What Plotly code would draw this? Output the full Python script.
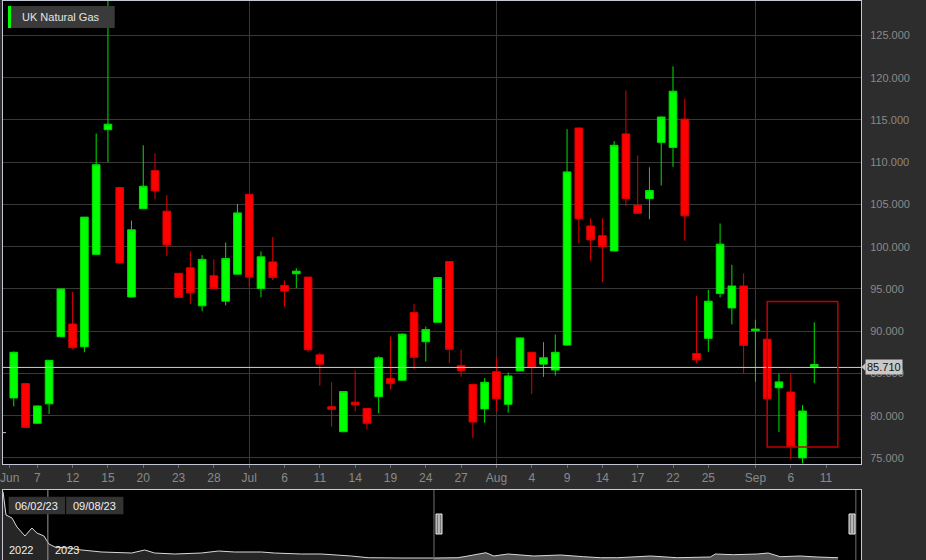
import pandas as pd
import plotly.graph_objects as go

# ---------------- data ----------------
TITLE = "UK Natural Gas"
holidays = ["2023-08-28"]
calendar = [d.strftime("%Y-%m-%d") for d in pd.bdate_range("2023-06-02", "2023-09-12")
            if d.strftime("%Y-%m-%d") not in holidays]

candle_dates = calendar[calendar.index("2023-06-05"):calendar.index("2023-09-08") + 1]

opens = [82.1, 83.8, 79.1, 81.4, 89.35, 90.85, 88.15, 99.1, 113.85, 107.0,
         94.05, 104.5, 109.0, 104.2, 96.85, 97.5, 93.0, 96.55, 93.55, 96.75,
         106.2, 95.05, 98.2, 95.4, 96.8, 96.4, 87.2, 81.05, 78.1, 81.6,
         80.85, 82.25, 84.4, 84.2, 92.2, 88.75, 91.05, 98.25, 85.95, 83.7,
         80.8, 85.2, 81.35, 85.3, 87.5, 86.1, 85.4, 88.35, 114.05, 102.45,
         101.3, 99.5, 113.35, 104.9, 105.7, 112.35, 111.75, 115.1, 87.35, 89.15,
         94.45, 92.75, 95.35, 90.05, 89.05, 83.3, 82.8, 75.0, 85.8]
highs = [87.6, 83.9, 81.2, 86.6, 95.0, 94.65, 103.5, 113.4, 130.0, 107.1,
         103.1, 112.0, 111.05, 106.1, 96.9, 99.45, 99.0, 98.5, 100.5, 105.05,
         106.25, 99.45, 101.15, 96.0, 97.45, 96.45, 87.45, 83.95, 82.85, 85.35,
         80.9, 87.05, 89.35, 89.75, 93.2, 90.55, 96.35, 98.3, 87.8, 83.75,
         84.45, 86.85, 85.1, 89.25, 87.55, 88.7, 89.6, 113.9, 114.1, 103.35,
         103.35, 112.5, 118.5, 110.8, 109.4, 115.4, 121.35, 117.55, 94.15, 94.9,
         102.75, 97.85, 96.85, 91.35, 89.1, 85.0, 85.0, 81.25, 91.05]
lows = [81.1, 78.5, 79.0, 80.2, 89.3, 87.9, 87.5, 99.0, 110.0, 98.0,
        94.0, 104.5, 105.6, 98.9, 93.95, 93.2, 92.35, 95.0, 93.05, 96.7,
        95.25, 94.0, 96.05, 92.9, 95.1, 87.55, 83.55, 78.7, 78.05, 80.5,
        78.4, 80.3, 83.1, 84.15, 85.5, 86.4, 91.0, 86.25, 84.6, 77.35,
        79.15, 80.45, 80.35, 85.25, 82.55, 84.6, 84.75, 88.3, 100.4, 98.35,
        95.8, 99.45, 104.8, 103.9, 103.25, 107.25, 109.45, 100.7, 86.25, 87.55,
        94.0, 90.8, 85.0, 84.0, 82.0, 78.05, 74.85, 74.35, 83.85]
closes = [87.5, 78.6, 81.15, 86.55, 95.0, 88.05, 103.5, 109.7, 114.5, 98.1,
          102.0, 107.15, 106.6, 100.2, 94.0, 94.55, 98.5, 95.05, 98.6, 104.0,
          96.4, 98.8, 96.35, 94.75, 97.1, 87.8, 86.1, 80.75, 82.85, 81.3,
          79.1, 86.85, 83.8, 89.65, 86.9, 90.2, 96.35, 87.85, 85.35, 79.25,
          83.95, 82.0, 84.7, 89.2, 85.7, 86.85, 87.5, 108.85, 103.3, 100.8,
          100.0, 112.0, 105.7, 103.95, 106.65, 115.35, 118.4, 103.65, 86.6, 93.55,
          100.3, 95.35, 88.3, 90.25, 82.0, 84.0, 76.35, 80.55, 86.05]

# unchanged (doji) candle partly visible at the left edge
flat_dates = ["2023-06-02"]
flat_open = [78.0]
flat_high = [78.3]
flat_low = [77.7]
flat_close = [78.0]

last_price = 85.71
last_price_text = "85.710"

tick_dates = ["2023-06-07", "2023-06-12", "2023-06-15", "2023-06-20", "2023-06-23",
              "2023-06-28", "2023-07-03", "2023-07-06", "2023-07-11", "2023-07-14",
              "2023-07-19", "2023-07-24", "2023-07-27", "2023-08-01", "2023-08-04",
              "2023-08-09", "2023-08-14", "2023-08-17", "2023-08-22", "2023-08-25",
              "2023-09-01", "2023-09-06", "2023-09-11"]
tick_text = ["7", "12", "15", "20", "23", "28", "Jul", "6", "11", "14", "19", "24",
             "27", "Aug", "4", "9", "14", "17", "22", "25", "Sep", "6", "11"]
first_label_date = "2023-06-02"
first_label_text = "Jun"
month_starts = ["2023-07-03", "2023-08-01", "2023-09-01"]
y_ticks = [75, 80, 85, 90, 95, 100, 105, 110, 115, 120, 125]

highlight_dates = ["2023-09-04", "2023-09-12"]
highlight_prices = [76.3, 93.5]

# navigator (overview) series: position along navigator (%) and price
nav_pos = [0.0, 0.35, 1.05, 1.63, 2.56, 3.37, 3.95, 4.77, 5.35, 6.05, 7.67, 9.19,
           11.51, 15.0, 16.51, 17.67, 20.0, 23.14, 25.12, 26.98, 30.12, 31.63,
           34.77, 37.09, 40.58, 42.56, 46.4, 50.23, 53.02, 54.19, 56.28, 57.21,
           58.84, 61.86, 65.0, 67.67, 69.65, 71.63, 75.47, 78.6, 82.44, 83.02,
           85.12, 87.91, 89.19, 90.58, 92.91, 94.88, 97.33]
nav_val = [544, 381, 360, 297, 234, 290, 255, 234, 178, 157, 150, 136,
           122, 115, 136, 115, 108, 115, 129, 122, 122, 115,
           108, 108, 94, 82, 80, 80, 82, 94, 117, 94,
           108, 94, 101, 89, 82, 82, 94, 82, 87, 108,
           103, 108, 115, 89, 94, 87, 82]
nav_year_pos = 5.23
nav_sel = [50.23, 99.4]
nav_sel_text = ["06/02/23", "09/08/23"]
nav_years = ["2022", "2023"]

# ---------------- figure ----------------
pos = {d: i for i, d in enumerate(calendar)}
cx = [pos[d] for d in candle_dates]

W, H = 926, 560
ML, MR, MT, MB = 1, 65, 1, 0
PW, PH = W - ML - MR, H - MT - MB


def px(x):
    return (x - ML) / PW


def py(y):
    return (H - MB - y) / PH


FONT = "Liberation Sans, Arial, sans-serif"
GREEN = "#00ff00"
RED = "#ff0000"
BORDER = "#c3c7d6"
GRID = "#383838"
LABEL = "#8a8a8a"

fig = go.Figure()

fig.add_trace(go.Candlestick(
    x=cx, open=opens, high=highs, low=lows, close=closes,
    increasing=dict(fillcolor=GREEN, line=dict(color="#00e000", width=1)),
    decreasing=dict(fillcolor=RED, line=dict(color="#e00000", width=1)),
    whiskerwidth=0, showlegend=False, hoverinfo="skip",
    xaxis="x", yaxis="y"))

fig.add_trace(go.Candlestick(
    x=[pos[d] for d in flat_dates], open=flat_open, high=flat_high, low=flat_low,
    close=flat_close,
    increasing=dict(fillcolor="#aaaaaa", line=dict(color="#aaaaaa", width=1)),
    decreasing=dict(fillcolor="#aaaaaa", line=dict(color="#aaaaaa", width=1)),
    whiskerwidth=0, showlegend=False, hoverinfo="skip",
    xaxis="x", yaxis="y"))

# navigator
split = next(i for i, p in enumerate(nav_pos) if p >= nav_sel[0])
fig.add_trace(go.Scatter(
    x=nav_pos[:split + 1], y=nav_val[:split + 1], mode="lines",
    line=dict(color="#d8d8d8", width=1), fill="tozeroy",
    fillcolor="rgba(70,70,70,0.55)", showlegend=False, hoverinfo="skip",
    xaxis="x2", yaxis="y2"))
fig.add_trace(go.Scatter(
    x=nav_pos[split:], y=nav_val[split:], mode="lines",
    line=dict(color="#d8d8d8", width=1), fill="tozeroy",
    fillcolor="rgba(110,110,110,0.75)", showlegend=False, hoverinfo="skip",
    xaxis="x2", yaxis="y2"))

main_bottom = py(464)
nav_top = py(490)

x_range = [0.085, 72.97]
tickvals = [pos[first_label_date] + 0.65] + [pos[d] for d in tick_dates]
ticktext = [first_label_text] + tick_text

shapes = []
# last price line
shapes.append(dict(type="line", xref="x domain", yref="y", x0=0, x1=1,
                   y0=last_price, y1=last_price, line=dict(color="#cfcfcf", width=1)))
# highlight rectangle
shapes.append(dict(type="rect", xref="x", yref="y",
                   x0=pos[highlight_dates[0]], x1=pos[highlight_dates[1]],
                   y0=highlight_prices[0], y1=highlight_prices[1],
                   line=dict(color="#c00000", width=1.5)))
# title box
shapes.append(dict(type="rect", xref="paper", yref="paper", x0=px(6), x1=px(113),
                   y0=py(28), y1=py(6), fillcolor="#3a3a3a", line=dict(width=0)))
shapes.append(dict(type="rect", xref="paper", yref="paper", x0=px(6), x1=px(9),
                   y0=py(28), y1=py(6), fillcolor=GREEN, line=dict(width=0)))
# price tag pointer
shapes.append(dict(type="path", xref="paper", yref="paper",
                   path=f"M {px(861.5)} {py(367)} L {px(865.5)} {py(363)} L {px(865.5)} {py(371)} Z",
                   fillcolor="#c8c8c8", line=dict(width=0)))
# navigator lines
shapes.append(dict(type="line", xref="x2", yref="y2 domain", x0=nav_year_pos, x1=nav_year_pos,
                   y0=0, y1=1, line=dict(color="#9a9a9a", width=1)))
for s in nav_sel:
    shapes.append(dict(type="line", xref="x2", yref="y2 domain", x0=s, x1=s,
                       y0=0, y1=1, line=dict(color="#707070", width=1)))
# navigator selection date boxes
for a, b in [(6.7, 63.3), (64.3, 121.7)]:
    shapes.append(dict(type="rect", xref="paper", yref="paper", x0=px(a), x1=px(b),
                       y0=py(514.3), y1=py(496.7), fillcolor="#333333", line=dict(width=0)))
# navigator handles
for hx in [438, 852]:
    shapes.append(dict(type="rect", xref="paper", yref="paper", x0=px(hx - 3), x1=px(hx + 3),
                       y0=py(534), y1=py(514), fillcolor="#7a7a7a",
                       line=dict(color="#f0f0f0", width=1)))
    shapes.append(dict(type="line", xref="paper", yref="paper", x0=px(hx), x1=px(hx),
                       y0=py(533), y1=py(515), line=dict(color="#f0f0f0", width=1)))

annotations = []
annotations.append(dict(xref="paper", yref="paper", x=px(18), y=py(17), xanchor="left",
                        yanchor="middle", text=TITLE, showarrow=False,
                        font=dict(family=FONT, size=11, color="#e4e4e4")))
annotations.append(dict(xref="paper", yref="y", x=1, y=last_price, xanchor="left",
                        yanchor="middle", xshift=4, text=last_price_text, showarrow=False,
                        bgcolor="#c8c8c8", borderpad=1,
                        font=dict(family=FONT, size=11, color="#111111")))
for (a, b), t in zip([(6.7, 63.3), (64.3, 121.7)], nav_sel_text):
    annotations.append(dict(xref="paper", yref="paper", x=px((a + b) / 2), y=py(505.5),
                            xanchor="center", yanchor="middle", text=t, showarrow=False,
                            font=dict(family=FONT, size=11, color="#f0f0f0")))
annotations.append(dict(xref="x2", yref="paper", x=0, y=py(550), xanchor="left",
                        yanchor="middle", xshift=4, text=nav_years[0], showarrow=False,
                        font=dict(family=FONT, size=11, color="#f0f0f0")))
annotations.append(dict(xref="x2", yref="paper", x=nav_year_pos, y=py(550), xanchor="left",
                        yanchor="middle", xshift=5, text=nav_years[1], showarrow=False,
                        font=dict(family=FONT, size=11, color="#f0f0f0")))

fig.update_layout(
    width=W, height=H,
    margin=dict(l=ML, r=MR, t=MT, b=MB),
    paper_bgcolor="#2d2d2d", plot_bgcolor="#000000",
    boxgap=0.07, boxgroupgap=0.3,
    font=dict(family=FONT, color=LABEL),
    showlegend=False,
    shapes=shapes, annotations=annotations,
    xaxis=dict(domain=[0, 1], range=x_range, anchor="y",
               tickmode="array", tickvals=tickvals, ticktext=ticktext,
               tickfont=dict(family=FONT, size=12, color=LABEL),
               ticks="outside", ticklen=3, tickcolor="#6a6a6a",
               ticklabeloverflow="allow",
               showgrid=False, zeroline=False,
               showline=True, linecolor=BORDER, linewidth=1, mirror=True,
               minor=dict(tickvals=[pos[d] for d in month_starts], showgrid=True,
                          gridcolor=GRID, gridwidth=1, ticks=""),
               rangeslider=dict(visible=False), fixedrange=True),
    yaxis=dict(domain=[main_bottom, 1], range=[74.28, 129.08], anchor="x",
               side="right", tickmode="array", tickvals=y_ticks,
               tickformat=".3f", tickfont=dict(family=FONT, size=11, color=LABEL),
               ticks="", ticklabelstandoff=6,
               showgrid=True, gridcolor=GRID, gridwidth=1, zeroline=False,
               showline=True, linecolor=BORDER, linewidth=1, mirror=True),
    xaxis2=dict(domain=[0, 1], range=[0, 100], anchor="y2", visible=True,
                showticklabels=False, ticks="", showgrid=False, zeroline=False,
                showline=True, linecolor=BORDER, linewidth=1, mirror=True),
    yaxis2=dict(domain=[0, nav_top], range=[66, 556], anchor="x2",
                showticklabels=False, ticks="", showgrid=False, zeroline=False,
                showline=True, linecolor=BORDER, linewidth=1, mirror=True),
)

fig.write_html(
    "out.html",
    config={"displayModeBar": False},
    post_script="document.body.style.margin='0';document.body.style.padding='0';"
                "document.body.style.overflow='hidden';",
)
